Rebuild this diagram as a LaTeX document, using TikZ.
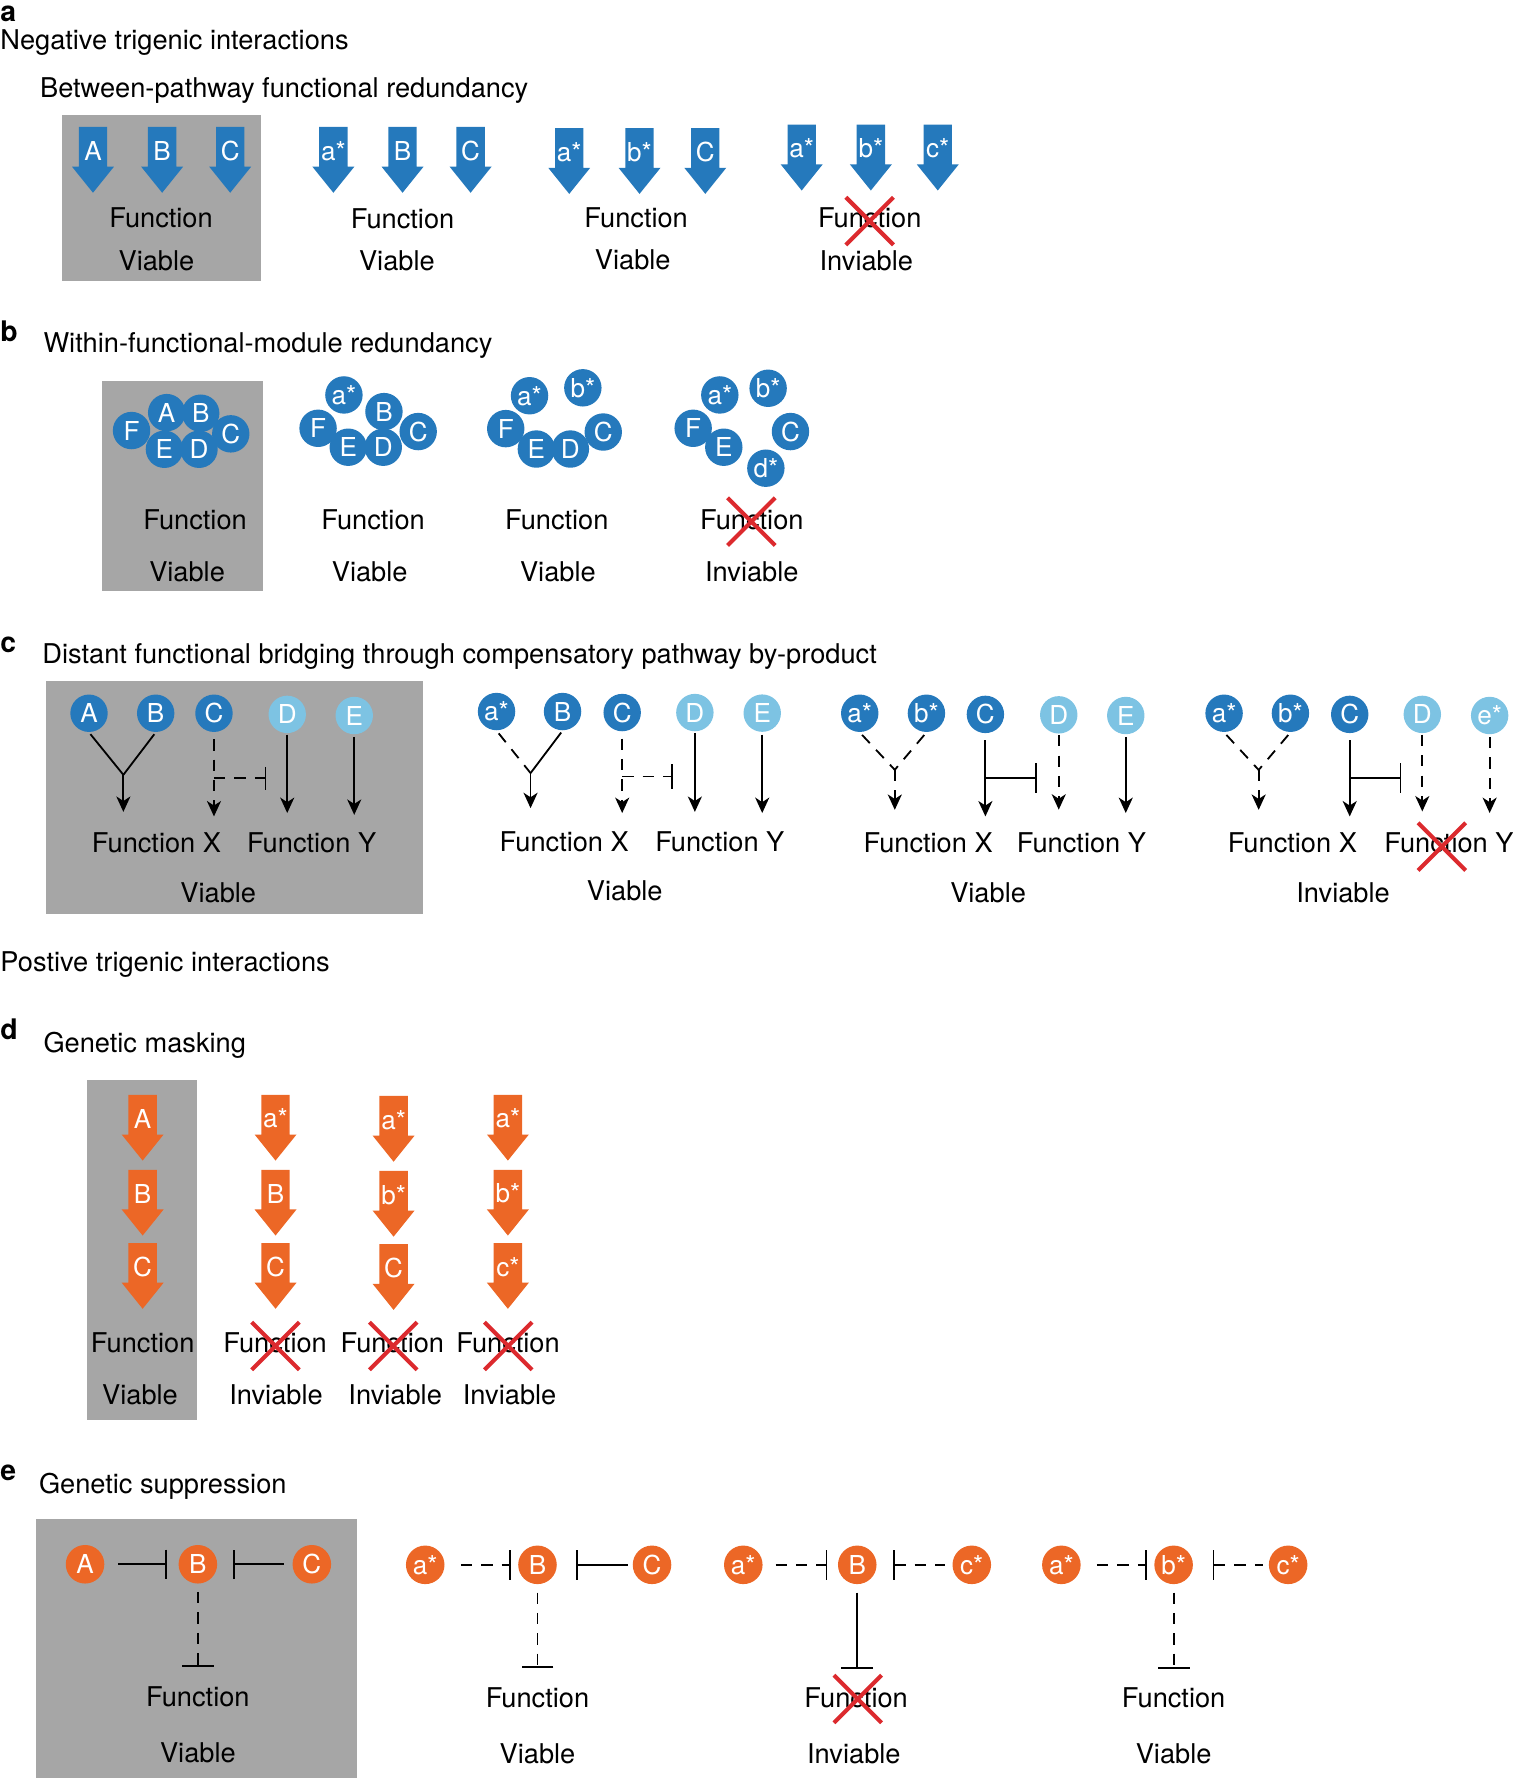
\documentclass[tikz,border=0pt]{standalone}
\usepackage{fontspec}
\setmainfont{TeX Gyre Heros}
\usetikzlibrary{arrows.meta}
\definecolor{dblue}{HTML}{2579BC}
\definecolor{lblue}{HTML}{7DC3E3}
\definecolor{orng}{HTML}{EC6726}
\definecolor{boxgray}{HTML}{A6A6A6}
\definecolor{xred}{HTML}{DC2A2E}
\tikzset{
  txt/.style={inner sep=0pt, font=\fontsize{12}{14}\selectfont},
  title/.style={txt, anchor=base west},
  plabel/.style={inner sep=0pt, anchor=base west, font=\fontsize{12.5}{15}\selectfont\bfseries},
  lettr/.style={inner sep=0pt, text=white, font=\fontsize{11.5}{14}\selectfont},
  bc/.style={circle, fill=dblue, minimum size=16.5pt, inner sep=0pt, text=white, font=\fontsize{11.5}{14}\selectfont},
  lc/.style={bc, fill=lblue},
  oc/.style={bc, fill=orng, minimum size=17pt},
  gbox/.style={fill=boxgray},
  ln/.style={line width=0.8pt, black},
  dsh/.style={ln, dash pattern=on 5pt off 4pt},
  arr/.style={-{Stealth[length=6.8pt,width=6.2pt,inset=2pt]}},
  inh/.style={-{Bar[width=#1,line width=0.8pt]}}, inh/.default=12pt,
  rinh/.style={{Bar[width=#1,line width=0.8pt]}-}, rinh/.default=13pt,
  redx/.style={xred, line width=1.8pt},
}
\newcommand\mkarrow[5]{% name, x, top y, colour, label
  \fill[#4] ({#2-12.5},#3) -- ++(25,0) -- ++(0,35) -- ++(6,0) -- ({#2},{#3+58}) -- ({#2-18.5},{#3+35}) -- ({#2-12.5},{#3+35}) -- cycle;
  \node[lettr] (#1) at ({#2},{#3+21}) {#5};}
\newcommand\xmark[2]{\draw[redx] ({#1-21},{#2-21}) -- ({#1+21},{#2+21}) ({#1-21},{#2+21}) -- ({#1+21},{#2-21});}
\begin{document}
\begin{tikzpicture}[x=0.5pt,y=-0.5pt]
\useasboundingbox (0,0) rectangle (1334,1568);

%%%%%%%%%%%%%%%% panel a
\node[plabel] (la) at (0,19) {a};
\node[title] (tneg) at (0,44) {Negative trigenic interactions};
\node[title] (ta) at (35,86) {Between-pathway functional redundancy};
\fill[gbox] (55,101) rectangle (230,248);
\mkarrow{a1A}{82}{112}{dblue}{A}
\mkarrow{a1B}{143}{112}{dblue}{B}
\mkarrow{a1C}{203}{112}{dblue}{C}
\mkarrow{a2A}{294}{112}{dblue}{a*}
\mkarrow{a2B}{355}{112}{dblue}{B}
\mkarrow{a2C}{415}{112}{dblue}{C}
\mkarrow{a3A}{502}{113}{dblue}{a*}
\mkarrow{a3B}{564}{113}{dblue}{b*}
\mkarrow{a3C}{622}{113}{dblue}{C}
\mkarrow{a4A}{707}{110}{dblue}{a*}
\mkarrow{a4B}{768}{110}{dblue}{b*}
\mkarrow{a4C}{827}{110}{dblue}{c*}
\node[txt] (a1f) at (142,192) {Function};
\node[txt] (a1v) at (138,230) {Viable};
\node[txt] (a2f) at (355,193) {Function};
\node[txt] (a2v) at (350,230) {Viable};
\node[txt] (a3f) at (561,192) {Function};
\node[txt] (a3v) at (558,229) {Viable};
\node[txt] (a4f) at (767,192) {Function};
\node[txt] (a4v) at (764,230) {Inviable};
\xmark{767}{195}

%%%%%%%%%%%%%%%% panel b
\node[plabel] (lb) at (0,301) {b};
\node[title] (tb) at (38,311) {Within-functional-module redundancy};
\fill[gbox] (90,336) rectangle (232,521);
% group 1
\node[bc] (b1F) at (116,379.7) {F};
\node[bc] (b1A) at (147,363.9) {A};
\node[bc] (b1B) at (177,364.4) {B};
\node[bc] (b1C) at (203.5,382.6) {C};
\node[bc] (b1E) at (145,396.2) {E};
\node[bc] (b1D) at (175.5,396.2) {D};
% group 2
\node[bc] (b2a) at (303.3,348.3) {a*};
\node[bc] (b2F) at (280.5,377.7) {F};
\node[bc] (b2B) at (338.6,363) {B};
\node[bc] (b2C) at (368.8,380.6) {C};
\node[bc] (b2E) at (307.1,394.4) {E};
\node[bc] (b2D) at (338,394.4) {D};
% group 3
\node[bc] (b3a) at (467,349) {a*};
\node[bc] (b3b) at (514,342) {b*};
\node[bc] (b3F) at (446,378) {F};
\node[bc] (b3E) at (473,396) {E};
\node[bc] (b3D) at (503,396) {D};
\node[bc] (b3C) at (532,381) {C};
% group 4
\node[bc] (b4a) at (634.8,348.3) {a*};
\node[bc] (b4b) at (677.4,342.4) {b*};
\node[bc] (b4F) at (611.3,377.7) {F};
\node[bc] (b4E) at (638.3,394.4) {E};
\node[bc] (b4C) at (697.1,380.6) {C};
\node[bc] (b4d) at (675.4,412.9) {d*};
\node[txt] (b1f) at (172,458) {Function};
\node[txt] (b1v) at (165,504) {Viable};
\node[txt] (b2f) at (329,458) {Function};
\node[txt] (b2v) at (326,504) {Viable};
\node[txt] (b3f) at (491,458) {Function};
\node[txt] (b3v) at (492,504) {Viable};
\node[txt] (b4f) at (663,458) {Function};
\node[txt] (b4v) at (663,504) {Inviable};
\xmark{662.6}{460}

%%%%%%%%%%%%%%%% panel c
\node[plabel] (lc) at (0,575) {c};
\node[title] (tc) at (37,585) {Distant functional bridging through compensatory pathway by-product};
\fill[gbox] (41,601) rectangle (373,806);
% group 1
\node[bc] (c1A) at (78.5,629) {A};
\node[bc] (c1B) at (137.3,629) {B};
\node[bc] (c1C) at (188.7,629) {C};
\node[lc] (c1D) at (253.3,630) {D};
\node[lc] (c1E) at (312.4,631) {E};
\coordinate (c1j) at (108.8,683.3);
\coordinate (c1t1) at (108.8,716);
\coordinate (c1t2) at (188.7,720);
\coordinate (c1t3) at (253.3,717);
\coordinate (c1t4) at (312.4,718.6);
\coordinate (c1h) at (188.7,686.3);
\coordinate (c1b) at (235,686.3);
\draw[ln,shorten <=1pt] (c1A.south) -- (c1j);
\draw[ln,shorten <=1pt] (c1B.south) -- (c1j);
\draw[ln,arr] (c1j) -- (c1t1);
\draw[dsh,arr,shorten <=3pt] (c1C) -- (c1t2);
\draw[dsh,inh=10pt] (c1h) -- (c1b);
\draw[ln,arr,shorten <=0.5pt] (c1D) -- (c1t3);
\draw[ln,arr,shorten <=1pt] (c1E) -- (c1t4);
\node[txt] (c1fx) at (138,743) {Function X};
\node[txt] (c1fy) at (274.8,743) {Function Y};
\node[txt] (c1v) at (192.5,787) {Viable};
% group 2
\node[bc] (c2a) at (437.9,627.5) {a*};
\node[bc] (c2B) at (496.1,627.5) {B};
\node[bc] (c2C) at (548.7,628.4) {C};
\node[lc] (c2D) at (612.8,628.4) {D};
\node[lc] (c2E) at (672.2,628.9) {E};
\coordinate (c2j) at (467.9,681.8);
\coordinate (c2t1) at (467.9,712.7);
\coordinate (c2t2) at (548.7,717);
\coordinate (c2t3) at (612.8,716);
\coordinate (c2t4) at (672.2,717);
\coordinate (c2h) at (548.7,684.8);
\coordinate (c2b) at (593.7,684.8);
\draw[dsh,shorten <=1.5pt] (c2a.south) -- (c2j);
\draw[ln,shorten <=1pt] (c2B.south) -- (c2j);
\draw[ln,arr] (c2j) -- (c2t1);
\draw[dsh,arr,shorten <=3pt] (c2C) -- (c2t2);
\draw[dsh,inh=11pt] (c2h) -- (c2b);
\draw[ln,arr,shorten <=0.5pt] (c2D) -- (c2t3);
\draw[ln,arr,shorten <=1pt] (c2E) -- (c2t4);
\node[txt] (c2fx) at (497.6,742) {Function X};
\node[txt] (c2fy) at (634.8,742) {Function Y};
\node[txt] (c2v) at (551,786) {Viable};
% group 3
\node[bc] (c3a) at (758.2,629) {a*};
\node[bc] (c3b) at (817,629) {b*};
\node[bc] (c3C) at (869,630) {C};
\node[lc] (c3D) at (933.7,630.4) {D};
\node[lc] (c3E) at (992.8,631) {E};
\coordinate (c3j) at (789.1,678.9);
\coordinate (c3t1) at (789.1,714.2);
\coordinate (c3t2) at (869,720);
\coordinate (c3t3) at (933.7,714);
\coordinate (c3t4) at (992.8,717);
\coordinate (c3h) at (869,686.3);
\coordinate (c3b2) at (914.6,686.3);
\draw[dsh,shorten <=1.5pt] (c3a.south) -- (c3j);
\draw[dsh,shorten <=1.5pt] (c3b.south) -- (c3j);
\draw[dsh,arr] (c3j) -- (c3t1);
\draw[ln,arr,shorten <=3pt] (c3C) -- (c3t2);
\draw[ln,inh=13pt] (c3h) -- (c3b2);
\draw[dsh,arr,shorten <=0.5pt] (c3D) -- (c3t3);
\draw[ln,arr,shorten <=1pt] (c3E) -- (c3t4);
\node[txt] (c3fx) at (818.5,743.5) {Function X};
\node[txt] (c3fy) at (953.7,743.5) {Function Y};
\node[txt] (c3v) at (871.4,787.6) {Viable};
% group 4
\node[bc] (c4a) at (1079.5,629) {a*};
\node[bc] (c4b) at (1138,629) {b*};
\node[bc] (c4C) at (1190.3,630) {C};
\node[lc] (c4D) at (1254.3,630) {D};
\node[lc] (c4e) at (1313.7,631) {e*};
\coordinate (c4j) at (1110,679);
\coordinate (c4t1) at (1110,714.2);
\coordinate (c4t2) at (1190.3,720);
\coordinate (c4t3) at (1254.3,715.6);
\coordinate (c4t4) at (1313.7,717);
\coordinate (c4h) at (1190.3,686.3);
\coordinate (c4b2) at (1235.8,686.3);
\draw[dsh,shorten <=1.5pt] (c4a.south) -- (c4j);
\draw[dsh,shorten <=1.5pt] (c4b.south) -- (c4j);
\draw[dsh,arr] (c4j) -- (c4t1);
\draw[ln,arr,shorten <=3pt] (c4C) -- (c4t2);
\draw[ln,inh=13pt] (c4h) -- (c4b2);
\draw[dsh,arr,shorten <=0.5pt] (c4D) -- (c4t3);
\draw[dsh,arr,shorten <=1pt] (c4e) -- (c4t4);
\node[txt] (c4fx) at (1139.7,743.5) {Function X};
\node[txt] (c4fy) at (1277.8,743.5) {Function Y};
\node[txt] (c4v) at (1184.4,787) {Inviable};
\xmark{1271.6}{746.6}

%%%%%%%%%%%%%%%% positive
\node[title] (tpos) at (0,857) {Postive trigenic interactions};

%%%%%%%%%%%%%%%% panel d
\node[plabel] (ld) at (0,917) {d};
\node[title] (td) at (38,928) {Genetic masking};
\fill[gbox] (77,952) rectangle (174,1252);
\mkarrow{d1A}{125.8}{965.5}{orng}{A}
\mkarrow{d1B}{125.8}{1031.6}{orng}{B}
\mkarrow{d1C}{125.8}{1096.2}{orng}{C}
\mkarrow{d2A}{243}{965.5}{orng}{a*}
\mkarrow{d2B}{243}{1031.6}{orng}{B}
\mkarrow{d2C}{243}{1096.2}{orng}{C}
\mkarrow{d3A}{347.1}{966.5}{orng}{a*}
\mkarrow{d3B}{347.1}{1032.6}{orng}{b*}
\mkarrow{d3C}{347.1}{1097.2}{orng}{C}
\mkarrow{d4A}{447.9}{965.5}{orng}{a*}
\mkarrow{d4B}{447.9}{1031.6}{orng}{b*}
\mkarrow{d4C}{447.9}{1096.2}{orng}{c*}
\node[txt] (d1f) at (125.8,1184.4) {Function};
\node[txt] (d1v) at (123.5,1230) {Viable};
\node[txt] (d2f) at (242.6,1184.4) {Function};
\node[txt] (d2v) at (243.4,1230) {Inviable};
\node[txt] (d3f) at (346,1184.4) {Function};
\node[txt] (d3v) at (348.5,1230) {Inviable};
\node[txt] (d4f) at (448,1184.4) {Function};
\node[txt] (d4v) at (449.4,1230) {Inviable};
\xmark{242.9}{1187}
\xmark{346.8}{1187}
\xmark{448.3}{1187}

%%%%%%%%%%%%%%%% panel e
\node[plabel] (le) at (0,1306) {e};
\node[title] (te) at (34,1317) {Genetic suppression};
\fill[gbox] (32,1340) rectangle (315,1568);
% group 1
\node[oc] (e1A) at (75,1379.5) {A};
\node[oc] (e1B) at (174.5,1379.5) {B};
\node[oc] (e1C) at (275,1379.5) {C};
\coordinate (e1f) at (174.5,1470);
\draw[ln,inh=13pt,shorten <=6pt,shorten >=5pt] (e1A) -- (e1B);
\draw[ln,rinh=13pt,shorten <=7pt,shorten >=3.5pt] (e1B) -- (e1C);
\draw[dsh,inh=14pt,shorten <=3.5pt] (e1B) -- (e1f);
\node[txt] (e1fn) at (174.5,1496) {Function};
\node[txt] (e1v) at (174.5,1546) {Viable};
% group 2
\node[oc] (e2a) at (375,1380) {a*};
\node[oc] (e2B) at (474,1380) {B};
\node[oc] (e2C) at (575,1380) {C};
\coordinate (e2f) at (474,1471);
\draw[dsh,inh=13pt,shorten <=7pt,shorten >=3pt] (e2a) -- (e2B);
\draw[ln,rinh=13pt,shorten <=8.5pt,shorten >=2pt] (e2B) -- (e2C);
\draw[dsh,inh=14pt,shorten <=3.5pt] (e2B) -- (e2f);
\node[txt] (e2fn) at (474,1497) {Function};
\node[txt] (e2v) at (474,1547) {Viable};
% group 3
\node[oc] (e3a) at (655.5,1380) {a*};
\node[oc] (e3B) at (756,1380) {B};
\node[oc] (e3c) at (857,1380) {c*};
\coordinate (e3f) at (756,1471.5);
\draw[dsh,inh=13pt,shorten <=5.5pt,shorten >=4.5pt] (e3a) -- (e3B);
\draw[dsh,rinh=13pt,shorten <=7pt,shorten >=3pt] (e3B) -- (e3c);
\draw[ln,inh=14pt,shorten <=3.5pt] (e3B) -- (e3f);
\node[txt] (e3fn) at (755,1497) {Function};
\node[txt] (e3v) at (753,1547) {Inviable};
\xmark{756.5}{1498.3}
% group 4
\node[oc] (e4a) at (936,1380) {a*};
\node[oc] (e4b) at (1035,1380) {b*};
\node[oc] (e4c) at (1136,1380) {c*};
\coordinate (e4f) at (1035,1471.5);
\draw[dsh,inh=13pt,shorten <=7pt,shorten >=3pt] (e4a) -- (e4b);
\draw[dsh,rinh=13pt,shorten <=8.5pt,shorten >=2.5pt] (e4b) -- (e4c);
\draw[dsh,inh=14pt,shorten <=3.5pt] (e4b) -- (e4f);
\node[txt] (e4fn) at (1035,1497) {Function};
\node[txt] (e4v) at (1035,1547) {Viable};
\end{tikzpicture}
\end{document}
